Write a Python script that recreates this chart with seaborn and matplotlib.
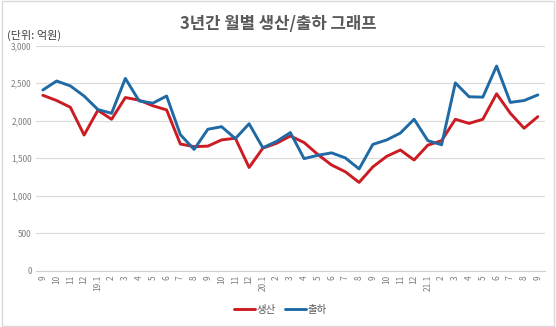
import matplotlib
matplotlib.use("Agg")
import matplotlib.pyplot as plt
import seaborn as sns
import pandas as pd
from matplotlib.patches import Rectangle

# Monthly labels, Sep 2018 - Sep 2021
months = ["9", "10", "11", "12", "19.1", "2", "3", "4", "5", "6", "7", "8",
          "9", "10", "11", "12", "20.1", "2", "3", "4", "5", "6", "7", "8",
          "9", "10", "11", "12", "21.1", "2", "3", "4", "5", "6", "7", "8", "9"]

# Production (생산), 억원
production = [2340, 2270, 2180, 1810, 2140, 2020, 2310, 2275, 2200, 2145, 1690, 1655,
              1662, 1745, 1767, 1377, 1635, 1700, 1797, 1710, 1550, 1410, 1320, 1178,
              1385, 1525, 1610, 1477, 1675, 1735, 2020, 1965, 2020, 2360, 2100, 1900, 2055]

# Shipments (출하), 억원
shipments = [2410, 2530, 2465, 2330, 2150, 2100, 2565, 2265, 2235, 2330, 1815, 1618,
             1887, 1921, 1762, 1960, 1640, 1725, 1843, 1495, 1540, 1572, 1505, 1358,
             1685, 1744, 1836, 2020, 1735, 1680, 2505, 2320, 2315, 2730, 2245, 2270, 2345]

series_names = ["생산", "출하"]
palette = {"생산": "#CC1C23", "출하": "#1F6AA5"}

sns.set_theme(style="white")
plt.rcParams["font.family"] = ["Noto Sans CJK KR", "DejaVu Sans"]

df = pd.DataFrame({
    "pos": list(range(len(months))) * 2,
    "value": production + shipments,
    "series": [series_names[0]] * len(months) + [series_names[1]] * len(months),
})

fig = plt.figure(figsize=(5.56, 3.27), dpi=100)
ax = fig.add_axes([0.0647, 0.172, 0.915, 0.688])

sns.lineplot(data=df, x="pos", y="value", hue="series", palette=palette,
             linewidth=2.1, ax=ax, legend=False)

ax.set_xlim(-0.5, len(months) - 0.5)
ax.set_ylim(0, 3000)
ax.set_yticks(range(0, 3001, 500))
ax.set_yticklabels([f"{v:,}" for v in range(0, 3001, 500)], fontsize=6, color="#7f7f7f")
ax.set_xticks(range(len(months)))
ax.set_xticklabels(months, rotation=90, fontsize=6, color="#7f7f7f")
ax.tick_params(axis="both", length=0, pad=3)
ax.set_xlabel("")
ax.set_ylabel("")
ax.grid(axis="y", color="#d9d9d9", linewidth=0.8)
ax.set_axisbelow(True)
for side in ["top", "right", "left"]:
    ax.spines[side].set_visible(False)
ax.spines["bottom"].set_color("#d0d0d0")
ax.spines["bottom"].set_linewidth(0.8)

fig.text(0.5, 0.927, "3년간 월별 생산/출하 그래프", ha="center", va="center",
         fontsize=12, fontweight="bold", color="#595959")
fig.text(0.012, 0.893, "(단위: 억원)", ha="left", va="center",
         fontsize=8, color="#404040")

# Legend at the bottom
handles = [plt.Line2D([0], [0], color=palette[n], linewidth=2.1) for n in series_names]
fig.legend(handles, series_names, loc="center", bbox_to_anchor=(0.505, 0.052),
           ncol=2, frameon=False, fontsize=7.5, handlelength=2.0,
           handletextpad=0.15, columnspacing=0.9, labelcolor="#595959")

# Chart-area border
fig.patches.append(Rectangle((0.003, 0.004), 0.994, 0.992, transform=fig.transFigure,
                             fill=False, edgecolor="#d9d9d9", linewidth=1.0))

fig.savefig("out.png", dpi=100)
